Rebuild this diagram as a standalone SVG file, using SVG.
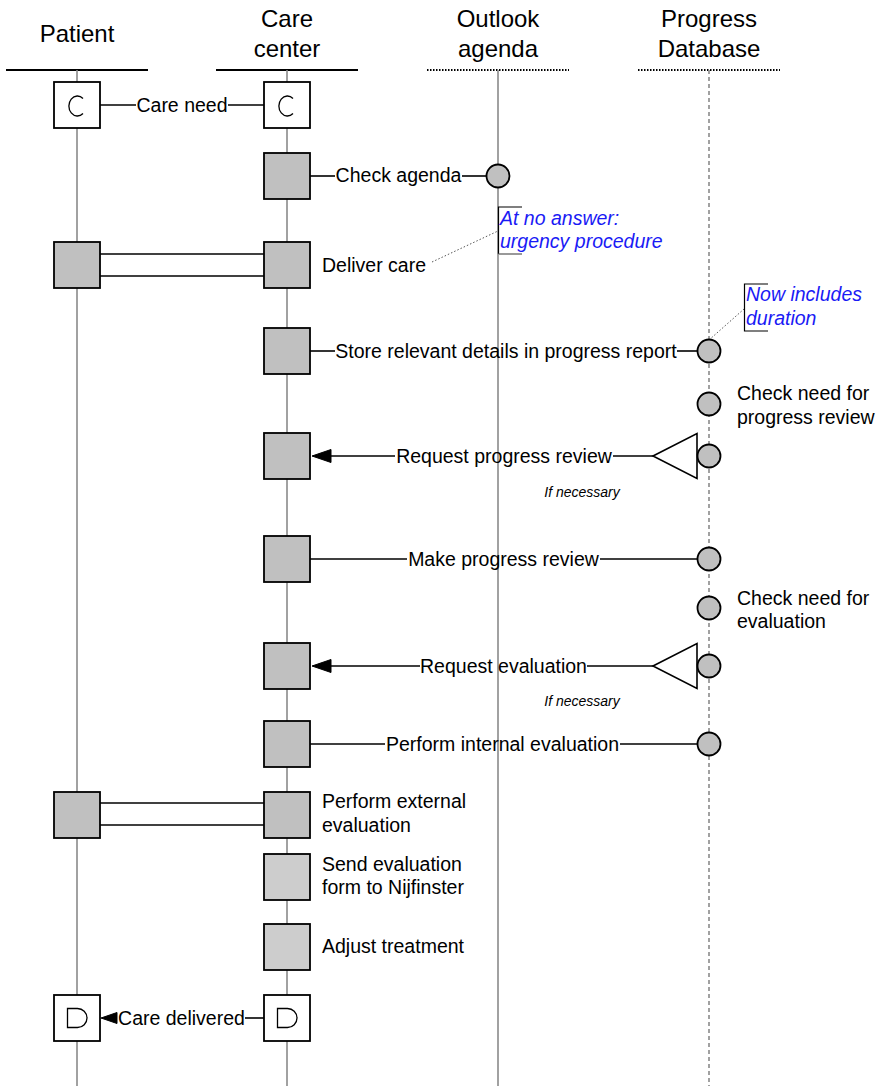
<svg xmlns="http://www.w3.org/2000/svg" width="877" height="1086" viewBox="0 0 877 1086">
<style>
text{font-family:"Liberation Sans",Arial,sans-serif;fill:#000}
.hd{font-size:24px;text-anchor:middle}
.lb{font-size:19.5px}
.mid{text-anchor:middle}
.nt{font-size:19.5px;font-style:italic;fill:#1a1af5}
.sm{font-size:14px;font-style:italic;text-anchor:middle}
.life{stroke:#8a8a8a;stroke-width:1.6;fill:none}
.dash{stroke-dasharray:4 3}
.hl{stroke:#000;stroke-width:2;fill:none}
.hdot{stroke:#000;stroke-width:2;stroke-dasharray:1.5 1.5;fill:none}
.act{fill:#c0c0c0;stroke:#000;stroke-width:1.8}
.act2{fill:#cdcdcd;stroke:#000;stroke-width:1.8}
.ev{fill:#fff;stroke:#000;stroke-width:1.8}
.sym{fill:none;stroke:#000;stroke-width:1.3}
.cir{fill:#c0c0c0;stroke:#000;stroke-width:1.8}
.ln{stroke:#000;stroke-width:1.6;fill:none}
.dot{stroke:#555;stroke-width:1;stroke-dasharray:1.5 2;fill:none}
.tri{fill:#fff;stroke:#000;stroke-width:1.6}
.ah{fill:#000;stroke:#000;stroke-width:1}
</style>

<g id="lanes">
  <g id="lane-patient">
    <text class="hd" x="77" y="42">Patient</text>
    <line class="hl" x1="6" y1="70" x2="148" y2="70"/>
    <line class="life" x1="77" y1="70" x2="77" y2="1086"/>
  </g>
  <g id="lane-care">
    <text class="hd" x="287" y="27">Care</text>
    <text class="hd" x="287" y="57">center</text>
    <line class="hl" x1="216" y1="70" x2="358" y2="70"/>
    <line class="life" x1="287" y1="70" x2="287" y2="1086"/>
  </g>
  <g id="lane-outlook">
    <text class="hd" x="498" y="27">Outlook</text>
    <text class="hd" x="498" y="57">agenda</text>
    <line class="hdot" x1="427" y1="70" x2="569" y2="70"/>
    <line class="life" x1="498" y1="70" x2="498" y2="1086"/>
  </g>
  <g id="lane-progress">
    <text class="hd" x="709" y="27">Progress</text>
    <text class="hd" x="709" y="57">Database</text>
    <line class="hdot" x1="638" y1="70" x2="780" y2="70"/>
    <line class="life dash" x1="709" y1="70" x2="709" y2="1086"/>
  </g>
</g>

<g id="connectors">
  <!-- Care need -->
  <line class="ln" x1="100" y1="105" x2="136" y2="105"/>
  <line class="ln" x1="228" y1="105" x2="264" y2="105"/>
  <!-- Check agenda -->
  <line class="ln" x1="310" y1="176" x2="335" y2="176"/>
  <line class="ln" x1="462" y1="176" x2="486.5" y2="176"/>
  <!-- Deliver care -->
  <line class="ln" x1="100" y1="254" x2="264" y2="254"/>
  <line class="ln" x1="100" y1="276" x2="264" y2="276"/>
  <!-- Store -->
  <line class="ln" x1="310" y1="351" x2="335" y2="351"/>
  <line class="ln" x1="677" y1="351" x2="697.5" y2="351"/>
  <!-- Request progress review -->
  <polygon class="ah" points="312,456 331,449.5 331,462.5"/>
  <line class="ln" x1="331" y1="456" x2="395" y2="456"/>
  <line class="ln" x1="613" y1="456" x2="653" y2="456"/>
  <polygon class="tri" points="653,456 697,433.5 697,478.5"/>
  <!-- Make progress review -->
  <line class="ln" x1="310" y1="559" x2="407" y2="559"/>
  <line class="ln" x1="600" y1="559" x2="697.5" y2="559"/>
  <!-- Request evaluation -->
  <polygon class="ah" points="312,666 331,659.5 331,672.5"/>
  <line class="ln" x1="331" y1="666" x2="420" y2="666"/>
  <line class="ln" x1="587" y1="666" x2="653" y2="666"/>
  <polygon class="tri" points="653,666 697,643.5 697,688.5"/>
  <!-- Perform internal evaluation -->
  <line class="ln" x1="310" y1="744" x2="385" y2="744"/>
  <line class="ln" x1="620" y1="744" x2="697.5" y2="744"/>
  <!-- Perform external evaluation -->
  <line class="ln" x1="100" y1="803" x2="264" y2="803"/>
  <line class="ln" x1="100" y1="825" x2="264" y2="825"/>
  <!-- Care delivered -->
  <polygon class="ah" points="101,1018 117,1012.5 117,1023.5"/>
  <line class="ln" x1="245" y1="1018" x2="264" y2="1018"/>
  <!-- annotation leaders -->
  <line class="dot" x1="432" y1="262" x2="498" y2="231"/>
  <line class="dot" x1="709" y1="340" x2="744" y2="309"/>
</g>

<g id="n-start-patient">
  <rect class="ev" x="54" y="82" width="46" height="46"/>
  <path class="sym" d="M83,98.5 A8.5,10 0 1 0 83,113.5"/>
</g>
<g id="n-start-care">
  <rect class="ev" x="264" y="82" width="46" height="46"/>
  <path class="sym" d="M293,98.5 A8.5,10 0 1 0 293,113.5"/>
</g>
<text class="lb mid" x="182" y="112">Care need</text>

<g id="n-check-agenda">
  <rect class="act" x="264" y="153" width="46" height="46"/>
  <text class="lb mid" x="398.5" y="182">Check agenda</text>
</g>
<g id="n-agenda-circle">
  <circle class="cir" cx="498" cy="176" r="11.5"/>
</g>
<g id="note-urgency">
  <path class="ln" style="stroke-width:1.2" d="M522,207 H498.5 V254"/>
  <line stroke="#777" stroke-width="1.5" x1="498.5" y1="254" x2="522" y2="254"/>
  <text class="nt" x="500" y="225">At no answer:</text>
  <text class="nt" x="500" y="248">urgency procedure</text>
</g>

<g id="n-deliver-patient">
  <rect class="act" x="54" y="242" width="46" height="46"/>
</g>
<g id="n-deliver-care">
  <rect class="act" x="264" y="242" width="46" height="46"/>
  <text class="lb" x="322" y="272">Deliver care</text>
</g>

<g id="note-duration">
  <path class="ln" style="stroke-width:1.2" d="M768,284 H744.5 V331 H768"/>
  <text class="nt" x="746" y="301">Now includes</text>
  <text class="nt" x="746" y="325">duration</text>
</g>
<g id="n-store">
  <rect class="act" x="264" y="328" width="46" height="46"/>
  <text class="lb mid" x="506" y="358">Store relevant details in progress report</text>
</g>
<g id="n-store-circle">
  <circle class="cir" cx="709" cy="351" r="11.5"/>
</g>

<g id="n-check-review">
  <circle class="cir" cx="709" cy="404" r="11.5"/>
  <text class="lb" x="737" y="400">Check need for</text>
  <text class="lb" x="737" y="424">progress review</text>
</g>

<g id="n-request-review">
  <rect class="act" x="264" y="433" width="46" height="46"/>
  <text class="lb mid" x="504" y="463">Request progress review</text>
  <text class="sm" x="582" y="497">If necessary</text>
</g>
<g id="n-request-review-circle">
  <circle class="cir" cx="709" cy="456" r="11.5"/>
</g>

<g id="n-make-review">
  <rect class="act" x="264" y="536" width="46" height="46"/>
  <text class="lb mid" x="503.5" y="566">Make progress review</text>
</g>
<g id="n-make-review-circle">
  <circle class="cir" cx="709" cy="559" r="11.5"/>
</g>

<g id="n-check-eval">
  <circle class="cir" cx="709" cy="608" r="11.5"/>
  <text class="lb" x="737" y="605">Check need for</text>
  <text class="lb" x="737" y="628">evaluation</text>
</g>

<g id="n-request-eval">
  <rect class="act" x="264" y="643" width="46" height="46"/>
  <text class="lb mid" x="503.5" y="673">Request evaluation</text>
  <text class="sm" x="582" y="706">If necessary</text>
</g>
<g id="n-request-eval-circle">
  <circle class="cir" cx="709" cy="666" r="11.5"/>
</g>

<g id="n-internal-eval">
  <rect class="act" x="264" y="721" width="46" height="46"/>
  <text class="lb mid" x="502.5" y="751">Perform internal evaluation</text>
</g>
<g id="n-internal-eval-circle">
  <circle class="cir" cx="709" cy="744" r="11.5"/>
</g>

<g id="n-external-patient">
  <rect class="act" x="54" y="792" width="46" height="46"/>
</g>
<g id="n-external-care">
  <rect class="act" x="264" y="792" width="46" height="46"/>
  <text class="lb" x="322" y="808">Perform external</text>
  <text class="lb" x="322" y="832">evaluation</text>
</g>

<g id="n-send-form">
  <rect class="act2" x="264" y="854" width="46" height="46"/>
  <text class="lb" x="322" y="871">Send evaluation</text>
  <text class="lb" x="322" y="894">form to Nijfinster</text>
</g>

<g id="n-adjust">
  <rect class="act2" x="264" y="924" width="46" height="46"/>
  <text class="lb" x="322" y="953">Adjust treatment</text>
</g>

<g id="n-end-patient">
  <rect class="ev" x="54" y="995" width="46" height="46"/>
  <path class="sym" d="M67.5,1008.5 V1027.5 H77.5 A9.5,9.5 0 0 0 77.5,1008.5 Z"/>
</g>
<g id="n-end-care">
  <rect class="ev" x="264" y="995" width="46" height="46"/>
  <path class="sym" d="M277.5,1008.5 V1027.5 H287.5 A9.5,9.5 0 0 0 287.5,1008.5 Z"/>
</g>
<text class="lb mid" x="181.5" y="1025">Care delivered</text>
</svg>
